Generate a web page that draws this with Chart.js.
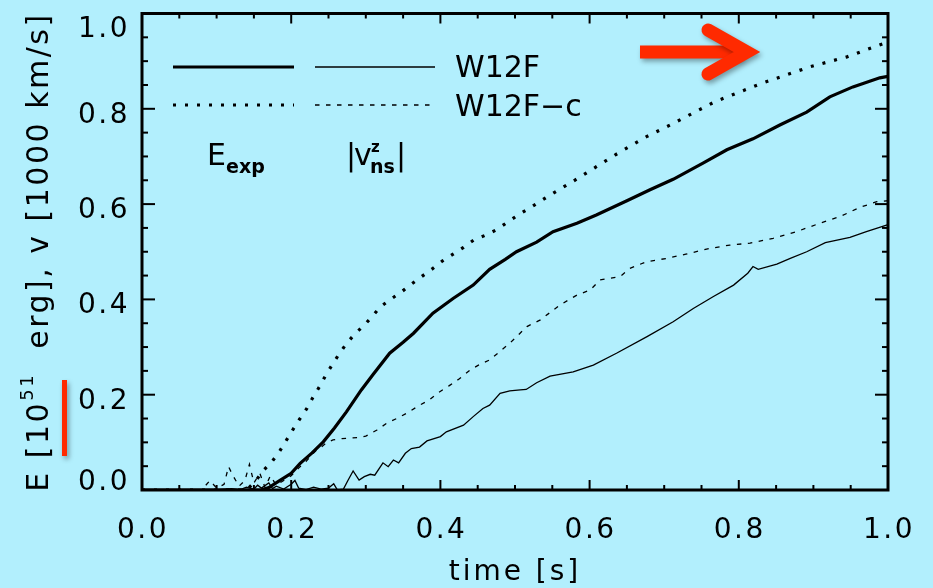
<!DOCTYPE html>
<html>
<head>
<meta charset="utf-8">
<title>W12F: explosion energy and neutron star velocity</title>
<script src="https://cdn.jsdelivr.net/npm/chart.js@4.4.1/dist/chart.umd.min.js"></script>
<style>
  html, body { margin: 0; padding: 0; background: #b2effd; }
  #wrap { width: 933px; height: 588px; }
</style>
</head>
<body>
<div id="wrap"><canvas id="energyChart" width="933" height="588"></canvas></div>
<script>
// W12F, explosion energy E_exp [10^51 erg]
const timeEexpW12F = [0, 0.16, 0.17, 0.185, 0.2, 0.212, 0.228, 0.243, 0.258, 0.274, 0.294, 0.31, 0.332, 0.35, 0.364, 0.39, 0.417, 0.444, 0.466, 0.487, 0.502, 0.529, 0.551, 0.583, 0.609, 0.65, 0.681, 0.712, 0.752, 0.784, 0.819, 0.855, 0.891, 0.922, 0.953, 0.989, 1.0];
const eexpW12F = [0, 0, 0.005, 0.02, 0.035, 0.056, 0.078, 0.101, 0.13, 0.164, 0.21, 0.243, 0.287, 0.31, 0.329, 0.371, 0.402, 0.43, 0.463, 0.484, 0.5, 0.52, 0.542, 0.56, 0.577, 0.607, 0.63, 0.652, 0.686, 0.714, 0.737, 0.766, 0.793, 0.825, 0.846, 0.865, 0.868];

// W12F-c, explosion energy
const timeEexpW12Fc = [0, 0.14, 0.152, 0.162, 0.174, 0.184, 0.193, 0.202, 0.211, 0.221, 0.229, 0.238, 0.246, 0.255, 0.264, 0.274, 0.285, 0.298, 0.309, 0.32, 0.334, 0.348, 0.361, 0.375, 0.389, 0.403, 0.417, 0.431, 0.445, 0.461, 0.475, 0.504, 0.52, 0.547, 0.578, 0.634, 0.677, 0.708, 0.768, 0.83, 0.895, 0.945, 0.994, 1.0];
const eexpW12Fc = [0, 0, 0.018, 0.04, 0.059, 0.08, 0.103, 0.126, 0.148, 0.171, 0.194, 0.217, 0.24, 0.263, 0.285, 0.307, 0.327, 0.346, 0.365, 0.385, 0.401, 0.416, 0.432, 0.448, 0.464, 0.481, 0.495, 0.509, 0.525, 0.535, 0.546, 0.577, 0.592, 0.619, 0.648, 0.703, 0.742, 0.766, 0.815, 0.853, 0.888, 0.909, 0.937, 0.94];

// W12F, |v_ns^z| [1000 km/s]
const timeVnsW12F = [0, 0.1, 0.12, 0.13, 0.14, 0.15, 0.155, 0.16, 0.17, 0.175, 0.18, 0.19, 0.2, 0.205, 0.21, 0.22, 0.23, 0.24, 0.25, 0.257, 0.262, 0.27, 0.276, 0.283, 0.291, 0.298, 0.306, 0.312, 0.323, 0.33, 0.337, 0.344, 0.353, 0.361, 0.372, 0.382, 0.4, 0.408, 0.431, 0.444, 0.457, 0.466, 0.48, 0.493, 0.507, 0.515, 0.529, 0.547, 0.578, 0.605, 0.636, 0.677, 0.712, 0.739, 0.766, 0.793, 0.812, 0.819, 0.826, 0.851, 0.869, 0.891, 0.916, 0.949, 0.971, 0.998, 1.0];
const vnsW12F = [0, 0, 0.003, 0, 0.006, 0.002, 0.01, 0.004, 0.015, 0.003, 0.008, 0.002, 0.012, 0.02, 0.004, 0.001, 0.006, 0.002, 0.004, 0.013, 0, 0.002, 0.02, 0.04, 0.021, 0.028, 0.033, 0.031, 0.057, 0.049, 0.063, 0.057, 0.077, 0.087, 0.09, 0.103, 0.112, 0.122, 0.136, 0.154, 0.171, 0.178, 0.203, 0.208, 0.21, 0.211, 0.225, 0.239, 0.248, 0.262, 0.287, 0.322, 0.353, 0.381, 0.406, 0.43, 0.455, 0.469, 0.463, 0.474, 0.486, 0.5, 0.519, 0.53, 0.542, 0.556, 0.557];

// W12F-c, |v_ns^z|
const timeVnsW12Fc = [0, 0.08, 0.091, 0.1, 0.11, 0.116, 0.122, 0.13, 0.138, 0.144, 0.15, 0.158, 0.165, 0.172, 0.18, 0.19, 0.2, 0.212, 0.22, 0.227, 0.235, 0.241, 0.248, 0.256, 0.268, 0.279, 0.29, 0.3, 0.315, 0.328, 0.344, 0.358, 0.37, 0.385, 0.397, 0.412, 0.425, 0.44, 0.451, 0.466, 0.493, 0.516, 0.534, 0.56, 0.583, 0.601, 0.614, 0.641, 0.654, 0.676, 0.703, 0.729, 0.761, 0.788, 0.815, 0.846, 0.877, 0.909, 0.936, 0.962, 0.985, 1.0];
const vnsW12Fc = [0, 0, 0.02, 0.004, 0.012, 0.049, 0.03, 0.008, 0.02, 0.054, 0.015, 0.035, 0.005, 0.03, 0.01, 0.02, 0.03, 0.049, 0.06, 0.073, 0.085, 0.091, 0.1, 0.105, 0.108, 0.109, 0.11, 0.113, 0.126, 0.14, 0.152, 0.164, 0.176, 0.189, 0.204, 0.219, 0.233, 0.252, 0.262, 0.273, 0.308, 0.343, 0.357, 0.388, 0.409, 0.42, 0.441, 0.448, 0.465, 0.479, 0.486, 0.495, 0.507, 0.514, 0.518, 0.528, 0.542, 0.56, 0.574, 0.593, 0.605, 0.607];

const xTickValues = [0, 0.2, 0.4, 0.6, 0.8, 1.0];
const xTickLabels = ["0.0", "0.2", "0.4", "0.6", "0.8", "1.0"];
const yTickValues = [0, 0.2, 0.4, 0.6, 0.8, 1.0];
const yTickLabels = ["0.0", "0.2", "0.4", "0.6", "0.8", "1.0"];
const minorStep = 0.05;
const modelNames = ["W12F", "W12F\u2212c"];

const BG = "#b2effd";
const INK = "#000";
const RED = "#ff2a00";
const FONT = "DejaVu Sans";

const THICK = 3.2;
const THIN = 1.3;
const DOTS = [3, 9];
const DASHES = [4.5, 6.5];

document.addEventListener("DOMContentLoaded", () => {
  const ctx = document.getElementById("energyChart").getContext("2d");

  const pairs = (ts, vs) => ts.map((t, i) => ({ x: t, y: vs[i] }));

  function text(c, str, x, y, size, opts = {}) {
    c.font = (opts.bold ? "bold " : "") + size + "px '" + FONT + "'";
    c.letterSpacing = (opts.spacing || 0) + "px";
    c.textAlign = opts.align || "left";
    c.textBaseline = "alphabetic";
    c.fillText(str, x, y);
  }

  function seg(c, x1, y1, x2, y2, width, dash) {
    c.save();
    c.lineWidth = width;
    c.setLineDash(dash || []);
    c.beginPath();
    c.moveTo(x1, y1);
    c.lineTo(x2, y2);
    c.stroke();
    c.restore();
  }

  // box, inward ticks, labels, key and markers in the IDL style
  const idlFrame = {
    id: "idlFrame",
    beforeDraw(chart) {
      const c = chart.ctx;
      c.save();
      c.fillStyle = BG;
      c.fillRect(0, 0, chart.width, chart.height);
      c.restore();
    },
    afterDraw(chart) {
      const c = chart.ctx;
      const a = chart.chartArea;
      const x = chart.scales.x;
      const y = chart.scales.y;
      c.save();
      c.strokeStyle = INK;
      c.fillStyle = INK;

      // minor and major ticks on all four sides
      c.lineWidth = 2;
      const nMinor = Math.round((x.max - x.min) / minorStep);
      for (let i = 0; i <= nMinor; i++) {
        const v = x.min + i * minorStep;
        const major = xTickValues.some((t) => Math.abs(t - v) < 1e-6);
        const len = major ? 10 : 5;
        const px = x.getPixelForValue(v);
        seg(c, px, a.bottom, px, a.bottom - len, 2);
        seg(c, px, a.top, px, a.top + len, 2);
      }
      const nMinorY = Math.round((y.max - y.min) / minorStep);
      for (let i = 0; i <= nMinorY; i++) {
        const v = y.min + i * minorStep;
        const major = yTickValues.some((t) => Math.abs(t - v) < 1e-6);
        const len = major ? 13 : 6;
        const py = y.getPixelForValue(v);
        seg(c, a.left, py, a.left + len, py, 2);
        seg(c, a.right, py, a.right - len, py, 2);
      }

      c.lineWidth = 3;
      c.strokeRect(a.left, a.top, a.right - a.left, a.bottom - a.top);

      // tick labels
      xTickValues.forEach((v, i) => {
        text(c, xTickLabels[i], x.getPixelForValue(v) + 1, 538, 28, { align: "center", spacing: 2.5 });
      });
      yTickValues.forEach((v, i) => {
        const py = y.getPixelForValue(v);
        const base = Math.min(Math.max(py + 14, a.top + 23), a.bottom);
        text(c, yTickLabels[i], 130, base, 28, { align: "right", spacing: 2.5 });
      });

      // axis titles
      text(c, "time [s]", 515, 580, 28, { align: "center", spacing: 3 });

      c.save();
      c.translate(48, 252);
      c.rotate(-Math.PI / 2);
      const parts = [
        { s: "E [10", size: 30, dy: 0 },
        { s: "51", size: 18, dy: -15 },
        { s: "  erg], v [1000 km/s]", size: 30, dy: 0 },
      ];
      let total = 0;
      parts.forEach((p) => {
        c.font = p.size + "px '" + FONT + "'";
        c.letterSpacing = "2.5px";
        p.w = c.measureText(p.s).width;
        total += p.w;
      });
      let cx = -total / 2;
      parts.forEach((p) => {
        text(c, p.s, cx, p.dy, p.size, { spacing: 2.5 });
        cx += p.w;
      });
      c.restore();

      // key: line samples and model names
      c.lineCap = "butt";
      seg(c, 173, 67, 294, 67, THICK);
      seg(c, 315, 67, 435, 67, THIN);
      seg(c, 173, 105, 294, 105, THICK, DOTS);
      seg(c, 315, 105, 435, 105, THIN, DASHES);
      text(c, modelNames[0], 455, 77, 30);
      text(c, modelNames[1], 455, 116, 30);

      text(c, "E", 207, 165, 30);
      text(c, "exp", 226, 173, 19, { bold: true });
      text(c, "|", 346, 165, 30);
      text(c, "v", 354, 165, 30);
      text(c, "z", 371, 152, 15, { bold: true });
      text(c, "ns", 370, 173, 19, { bold: true });
      text(c, "|", 396, 165, 30);

      // red markers
      c.shadowColor = "rgba(0, 0, 0, 0.35)";
      c.shadowBlur = 5;
      c.shadowOffsetX = 2;
      c.shadowOffsetY = 3;
      c.fillStyle = RED;
      c.strokeStyle = RED;
      c.fillRect(62, 380, 5, 76);

      c.lineWidth = 13;
      c.setLineDash([]);
      c.lineCap = "butt";
      c.beginPath();
      c.moveTo(640, 52);
      c.lineTo(742, 52);
      c.stroke();
      c.lineCap = "round";
      c.lineJoin = "miter";
      c.beginPath();
      c.moveTo(708, 30);
      c.lineTo(747, 52);
      c.lineTo(708, 74);
      c.stroke();

      c.restore();
    },
  };

  new Chart(ctx, {
    type: "line",
    data: {
      datasets: [
        { label: "E_exp W12F", data: pairs(timeEexpW12F, eexpW12F), borderWidth: THICK },
        { label: "E_exp W12F-c", data: pairs(timeEexpW12Fc, eexpW12Fc), borderWidth: THICK, borderDash: DOTS },
        { label: "|v| W12F", data: pairs(timeVnsW12F, vnsW12F), borderWidth: THIN },
        { label: "|v| W12F-c", data: pairs(timeVnsW12Fc, vnsW12Fc), borderWidth: THIN, borderDash: DASHES },
      ].map((d) => Object.assign(d, { borderColor: INK, pointRadius: 0, tension: 0, fill: false })),
    },
    options: {
      responsive: false,
      animation: false,
      devicePixelRatio: 1,
      layout: { padding: { top: 13.5, right: 45, left: 0, bottom: 0 } },
      plugins: {
        legend: { display: false },
        tooltip: { enabled: false },
      },
      scales: {
        x: {
          type: "linear",
          min: 0,
          max: 1,
          ticks: { display: false, stepSize: 0.2 },
          grid: { display: false },
          border: { display: false },
          afterFit: (s) => { s.height = 98; },
        },
        y: {
          type: "linear",
          min: 0,
          max: 1,
          ticks: { display: false, stepSize: 0.2 },
          grid: { display: false },
          border: { display: false },
          afterFit: (s) => { s.width = 142; },
        },
      },
    },
    plugins: [idlFrame],
  });
});
</script>
</body>
</html>
